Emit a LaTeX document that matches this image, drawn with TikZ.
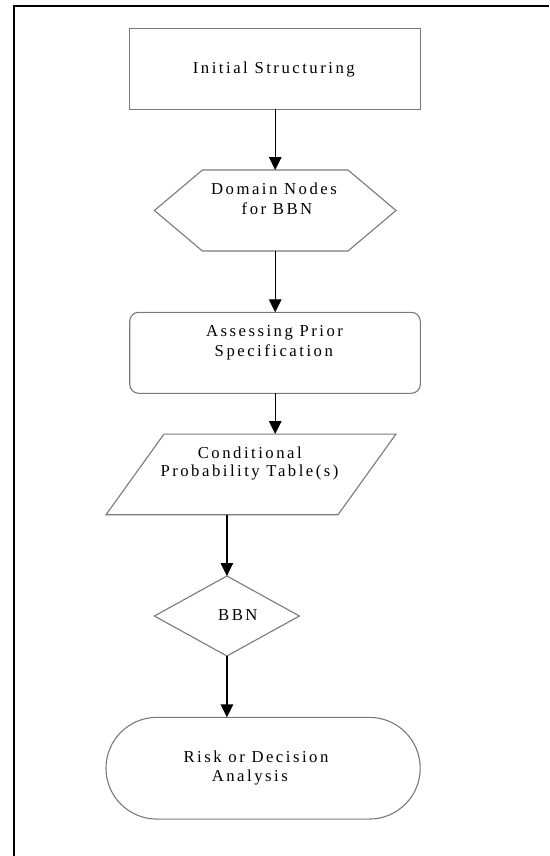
\documentclass[tikz,border=0pt]{standalone}
\usepackage{fontspec}
\setmainfont[LetterSpace=15]{Liberation Serif}
\usetikzlibrary{arrows.meta}
\begin{document}
\begin{tikzpicture}[x=1pt,y=-1pt,
  shp/.style={draw=gray!95!black, line width=1.1pt},
  box/.style={inner sep=0pt, outer sep=0pt},
  txt/.style={font=\fontsize{16.7}{20}\selectfont, inner sep=0pt, anchor=base},
  conn/.style={line width=1.3pt, -{Triangle[length=13pt,width=12.5pt]}}]
\useasboundingbox (0,0) rectangle (549,856);
% frame
\draw[line width=2pt] (14,856) -- (14,6) -- (549,6);
% shapes
\node[box, shp, minimum width=290.6pt, minimum height=81pt] (s1) at (275,68.8) {};
\node[box, minimum width=241.6pt, minimum height=81pt] (s2) at (275.2,210.5) {};
\draw[shp] (s2.west) -- ([xshift=48pt]s2.north west) -- ([xshift=-48pt]s2.north east) -- (s2.east) -- ([xshift=-48pt]s2.south east) -- ([xshift=48pt]s2.south west) -- cycle;
\node[box, shp, rounded corners=9pt, minimum width=290.6pt, minimum height=81pt] (s3) at (275,352.8) {};
\node[box, minimum width=290pt, minimum height=80.7pt] (s4) at (251,474.4) {};
\draw[shp] ([xshift=58pt]s4.north west) -- (s4.north east) -- ([xshift=-58pt]s4.south east) -- (s4.south west) -- cycle;
\node[box, minimum width=145pt, minimum height=80pt] (s5) at (226.9,616) {};
\draw[shp] (s5.north) -- (s5.east) -- (s5.south) -- (s5.west) -- cycle;
\node[box, shp, rounded corners=50.8pt, minimum width=314.2pt, minimum height=101.7pt] (s6) at (263.1,768.2) {};
% texts
\node[txt] (t1) at (273.8,74) {Initial Structuring};
\node[txt] (t2a) at (274,194.3) {Domain Nodes};
\node[txt] (t2b) at (277,214.3) {for BBN};
\node[txt] (t3a) at (274.5,336) {Assessing Prior};
\node[txt] (t3b) at (273.8,356) {Specification};
\node[txt] (t4a) at (249.8,458.3) {Conditional};
\node[txt] (t4b) at (249.5,476.7) {Probability Table(s)};
\node[txt] (t5) at (237.8,620.7) {BBN};
\node[txt] (t6a) at (256,762.3) {Risk or Decision};
\node[txt] (t6b) at (249.8,781) {Analysis};
% connectors
\draw[conn] (s1.south -| s2.north) -- (s2.north);
\draw[conn] (s2.south) -- (s3.north -| s2.south);
\draw[conn] (s3.south -| s2.south) -- (s4.north -| s2.south);
\draw[conn] (s4.south -| s5.north) -- (s5.north);
\draw[conn] (s5.south) -- (s6.north -| s5.south);
\end{tikzpicture}
\end{document}
